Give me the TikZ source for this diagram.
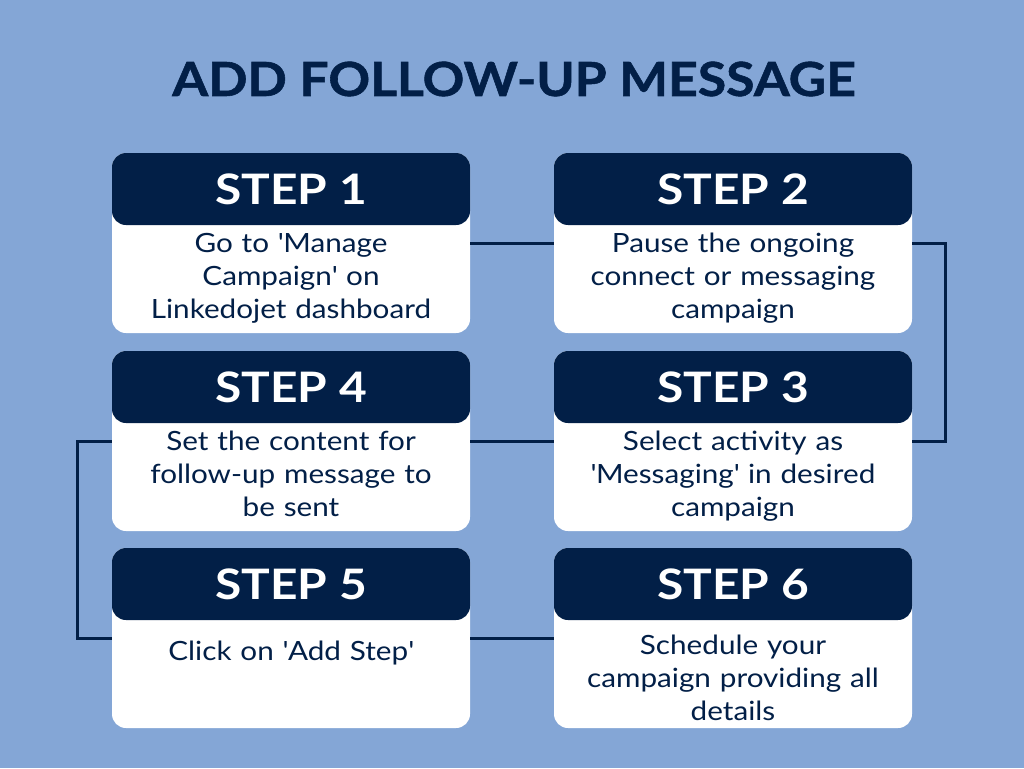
\documentclass[tikz,border=0pt]{standalone}
\usepackage{fontspec}
\setmainfont{Lato}
\newfontfamily\bodyfont{Lato}[FakeStretch=1.12]
\newfontfamily\headfont{Lato}[FakeStretch=1.14]
\newfontfamily\titlefont{Lato}[FakeStretch=1.1, BoldFeatures={FakeBold=1.2}]
\usetikzlibrary{calc}
\definecolor{bgblue}{HTML}{84A6D6}
\definecolor{navy}{HTML}{021F47}
\newcommand{\q}{\textquotesingle}
\tikzset{
  card/.style={fill=white, rounded corners=14pt, minimum width=358pt, minimum height=180pt, inner sep=0pt, draw=none},
  head/.style={fill=navy, rounded corners=14pt, minimum width=358pt, minimum height=72pt, inner sep=0pt, text=white, font=\headfont\fontsize{42}{46}\selectfont\bfseries},
  body/.style={text=navy, align=center, text width=350pt, inner sep=0pt, font=\bodyfont\fontsize{26.5}{33}\selectfont},
  conn/.style={draw=navy, line width=3pt},
}
\begin{document}
\begin{tikzpicture}[x=1pt,y=-1pt]
\fill[bgblue] (0,0) rectangle (1024,768);
\useasboundingbox (0,0) rectangle (1024,768);
\node[text=navy, font=\titlefont\fontsize{47}{50}\selectfont\bfseries] (title) at (514,79) {ADD FOLLOW-UP MESSAGE};
% cards
\node[card] (c1) at (291,243) {};
\node[card] (c2) at (733,243) {};
\node[card] (c4) at (291,441) {};
\node[card] (c3) at (733,441) {};
\node[card] (c5) at (291,638) {};
\node[card] (c6) at (733,638) {};
% headers
\node[head, anchor=north] (h1) at (c1.north) {STEP 1};
\node[head, anchor=north] (h2) at (c2.north) {STEP 2};
\node[head, anchor=north] (h4) at (c4.north) {STEP 4};
\node[head, anchor=north] (h3) at (c3.north) {STEP 3};
\node[head, anchor=north] (h5) at (c5.north) {STEP 5};
\node[head, anchor=north] (h6) at (c6.north) {STEP 6};
% body texts
\node[body, anchor=north] (t1) at ($(h1.south)+(0,8)$) {Go to \q Manage\\Campaign\q{} on\\Linkedojet dashboard};
\node[body, anchor=north] (t2) at ($(h2.south)+(0,8)$) {Pause the ongoing\\connect or messaging\\campaign};
\node[body, anchor=north] (t4) at ($(h4.south)+(0,8)$) {Set the content for\\follow-up message to\\be sent};
\node[body, anchor=north] (t3) at ($(h3.south)+(0,8)$) {Select activity as\\\q Messaging\q{} in desired\\campaign};
\node[body, anchor=north] (t5) at ($(h5.south)+(0,21)$) {Click on \q Add Step\q};
\node[body, anchor=north] (t6) at ($(h6.south)+(0,15)$) {Schedule your\\campaign providing all\\details};
% connectors
\draw[conn] (c1.east) -- (c2.west);
\draw[conn] (c2.east) -- ++(33,0) |- (c3.east);
\draw[conn] (c3.west) -- (c4.east);
\draw[conn] (c4.west) -- ++(-34,0) |- (c5.west);
\draw[conn] (c5.east) -- (c6.west);
\end{tikzpicture}
\end{document}
